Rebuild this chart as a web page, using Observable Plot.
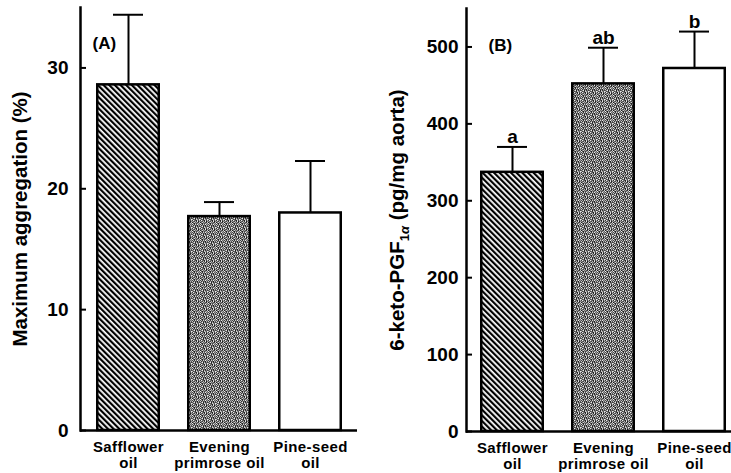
<!DOCTYPE html>
<html>
<head>
<meta charset="utf-8">
<script src="https://cdn.jsdelivr.net/npm/d3@7"></script>
<script src="https://cdn.jsdelivr.net/npm/@observablehq/plot@0.6"></script>
<style>
  body { margin: 0; background: #fff; }
  #wrap { position: relative; width: 731px; height: 473px; overflow: hidden; background: #fff; }
  #wrap > svg.panel { position: absolute; top: 0; }
  #wrap g[aria-label="x-axis tick label"] text { letter-spacing: 0.4px; }
</style>
</head>
<body>
<svg width="0" height="0" style="position:absolute">
  <defs>
    <pattern id="hatch" width="4" height="4" patternUnits="userSpaceOnUse" patternTransform="rotate(-45)">
      <rect width="4" height="4" fill="#fff"></rect>
      <rect width="2.2" height="4" fill="#000"></rect>
    </pattern>
    <pattern id="stipple" width="8" height="8" patternUnits="userSpaceOnUse"></pattern>
  </defs>
</svg>
<div id="wrap"></div>
<script>
// ---- data ----
const oils = ["Safflower\noil", "Evening\nprimrose oil", "Pine-seed\noil"];
const aggregationMean = [28.6, 17.7, 18.0];
const aggregationSE = [5.8, 1.2, 4.3];
const ketoMean = [337, 452, 472];
const ketoSE = [33, 47, 48];
const letters = ["a", "ab", "b"];
const aggTicks = [0, 10, 20, 30];
const ketoTicks = [0, 100, 200, 300, 400, 500];

// ---- styles ----
const barFills = ["url(#hatch)", "url(#stipple)", "#ffffff"];
const font = "'Liberation Sans', Arial, Helvetica, sans-serif";

// stipple texture (fixed grey-level map, 8x8 pixels; 0 = dark .. 9 = light)
const stippleMap = [
  "27183946",
  "81624073",
  "36907152",
  "72418639",
  "19530827",
  "64271905",
  "05846318",
  "93062574"
];
const greys = ["#1e1e1e","#333","#444","#555","#666","#7a7a7a","#999","#b4b4b4","#d0d0d0","#ececec"];
const pat = d3.select("#stipple");
stippleMap.forEach((row, y) => row.split("").forEach((c, x) => {
  pat.append("rect").attr("x", x).attr("y", y).attr("width", 1).attr("height", 1).attr("fill", greys[+c]);
}));

const tableA = oils.map((o, i) => ({oil: o, v: aggregationMean[i], hi: aggregationMean[i] + aggregationSE[i], fill: barFills[i]}));
const tableB = oils.map((o, i) => ({oil: o, v: ketoMean[i], hi: ketoMean[i] + ketoSE[i], fill: barFills[i], letter: letters[i]}));

function panel({data, width, marginLeft, marginRight, marginTop, marginBottom, yDomain, ticks, tickPadding, padOuter, tag, tagDx, tagDy, withLetters}) {
  const marks = [
    Plot.ruleX(data, {x: "oil", y1: "v", y2: "hi", stroke: "#000", strokeWidth: 2}),
    Plot.tickY(data, {x: "oil", y: "hi", stroke: "#000", strokeWidth: 2, insetLeft: 17, insetRight: 17}),
    Plot.barY(data, {x: "oil", y: "v", fill: "fill", stroke: "#000", strokeWidth: 2.5, insetLeft: 1.25, insetRight: 1.25}),
    Plot.ruleY([0], {stroke: "#000", strokeWidth: 2.5}),
    Plot.frame({anchor: "left", stroke: "#000", strokeWidth: 2.5}),
    Plot.axisY({ticks, tickSize: -6, tickPadding, fontSize: 19, fontWeight: "bold", label: null, strokeWidth: 2}),
    Plot.axisX({tickSize: 0, tickPadding: 10, fontSize: 15, fontWeight: "bold", label: null, lineHeight: 1.08}),
    Plot.text([tag], {frameAnchor: "top-left", dx: tagDx, dy: tagDy, textAnchor: "start", lineAnchor: "middle", fontSize: 17, fontWeight: "bold"})
  ];
  if (withLetters) {
    marks.push(Plot.text(data, {x: "oil", y: "hi", text: "letter", lineAnchor: "bottom", dy: -4, fontSize: 19, fontWeight: "bold"}));
  }
  return Plot.plot({
    width, height: 473, marginLeft, marginRight, marginTop, marginBottom,
    style: {fontFamily: font, color: "#000", background: "transparent", overflow: "visible"},
    x: {domain: oils, padding: 0.3, paddingOuter: padOuter, label: null},
    y: {domain: yDomain, label: null},
    color: {type: "identity"},
    marks
  });
}

const wrap = document.getElementById("wrap");

const svgA = panel({data: tableA, width: 365, marginLeft: 80, marginRight: 8, marginTop: 7, marginBottom: 43,
  yDomain: [0, 35], ticks: aggTicks, tickPadding: 18, padOuter: 0.17, tag: "(A)", tagDx: 12, tagDy: 36, withLetters: false});
svgA.classList.add("panel");
svgA.style.left = "0px";
wrap.appendChild(svgA);

const svgB = panel({data: tableB, width: 376, marginLeft: 101, marginRight: 2, marginTop: 8, marginBottom: 42,
  yDomain: [0, 550], ticks: ketoTicks, tickPadding: 14, padOuter: 0.14, tag: "(B)", tagDx: 22, tagDy: 37, withLetters: true});
svgB.classList.add("panel");
svgB.style.left = "365px";
wrap.appendChild(svgB);

// y-axis titles (with subscript)
d3.select(svgA).append("text")
  .attr("transform", "translate(27,219) rotate(-90)")
  .attr("text-anchor", "middle").attr("font-size", 20.5).attr("font-weight", "bold")
  .attr("font-family", font).attr("fill", "#000")
  .text("Maximum aggregation (%)");

const tB = d3.select(svgB).append("text")
  .attr("transform", "translate(39,220) rotate(-90)")
  .attr("text-anchor", "middle").attr("font-size", 20.5).attr("font-weight", "bold")
  .attr("font-family", font).attr("fill", "#000");
tB.append("tspan").text("6-keto-PGF");
tB.append("tspan").attr("dy", 5).attr("font-size", 13).text("1");
tB.append("tspan").attr("font-size", 13).attr("font-style", "italic").text("α");
tB.append("tspan").attr("dy", -5).text(" (pg/mg aorta)");
</script>
</body>
</html>
